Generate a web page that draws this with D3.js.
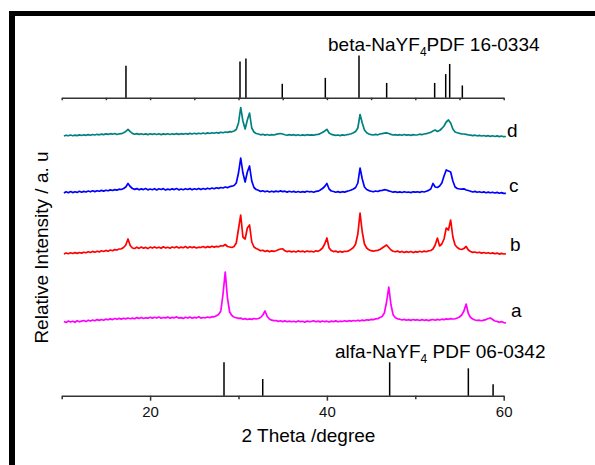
<!DOCTYPE html>
<html>
<head>
<meta charset="utf-8">
<script src="https://cdn.jsdelivr.net/npm/d3@7/dist/d3.min.js"></script>
<style>
  body { margin: 0; background: #fff; }
  svg { font-family: "Liberation Sans", Arial, sans-serif; }
</style>
</head>
<body>
<div class="chart"></div>
<script>
// 2 theta sampling grid of the scans (degrees)
var thetaStart = 10.25;
var thetaStep = 0.25;

// relative intensities, one value per grid point (10.25 .. 60.25)
var sampleA = [
  0.5, -0.5, 1, 0, 0.8, -0.3, 1.2, 0.2,
  0.9, 1.5, 0.4, 1.8, 1, 2, 1.2, 2.4,
  1.6, 2.5, 1.8, 2.9, 2.2, 3.1, 2.4, 3.5,
  2.7, 3.6, 2.9, 3.8, 3.1, 4, 3.3, 3.9,
  3.2, 4.4, 3.6, 4.6, 3.5, 4.2, 3.8, 4.8,
  3.9, 4.7, 4, 5, 3.8, 4.5, 4.1, 4.9,
  3.7, 4.6, 4.2, 5.1, 3.9, 4.4, 3.6, 4.8,
  4, 4.9, 3.8, 4.6, 4.1, 5.2, 3.9, 4.5,
  4.2, 5, 4.4, 5.3, 5.2, 6.2, 7.5, 11,
  28, 50, 24, 10, 6.5, 4.8, 4.2, 3.6,
  3.9, 2.8, 3.4, 2.5, 3.1, 2.6, 3.5, 3,
  3.5, 4.5, 7, 11, 5.5, 3, 1.8, 1.3,
  1.5, 0.6, 1.2, 0.4, 1.1, 0.3, 0.9, 0.2,
  0.8, 0, 1.1, 0.3, 0.7, -0.2, 0.9, 0.4,
  0.6, 1.2, 0.2, 0.9, 0.1, 1, 0.3, 0.8,
  0, 0.9, 0.4, 1.1, 0.2, 0.8, 0.5, 1.2,
  0.6, 1.3, 0.8, 1.5, 1, 1.7, 1.2, 1.9,
  1.4, 2.2, 1.8, 2.6, 2.3, 3.1, 3.3, 4.5,
  5.5, 9, 20, 35, 17, 7, 4.2, 3.2,
  2.8, 2, 2.6, 1.8, 2.4, 1.6, 2.5, 1.9,
  2.3, 1.5, 2.4, 1.7, 2.2, 1.4, 2.1, 2.5,
  1.8, 2.6, 2, 2.8, 2.3, 3.1, 2.7, 3.4,
  3, 3.2, 4, 5, 7, 11, 18, 8.5,
  4.5, 3, 2, 1.6, 1.8, 1.2, 1.9, 2.4,
  3.5, 4, 2.5, 1, 0.6, -0.3, 0.4, -0.6,
  -0.8
];

var sampleB = [
  0, 1, 0.3, 1.2, 0.5, 1.4, 0.6, 1.5,
  0.9, 1.8, 1.2, 2.2, 1.5, 2.6, 1.8, 2.8,
  2.1, 3.2, 2.5, 3.6, 2.8, 4, 3.3, 4.4,
  4, 5, 5.2, 6.5, 9, 15, 8.5, 6,
  5.5, 6.8, 5.6, 7, 5.8, 6.6, 5.4, 6.9,
  5.9, 7.1, 6, 6.8, 5.7, 7.2, 6.1, 6.7,
  5.8, 7, 6.2, 7.3, 6, 6.9, 6.3, 7.4,
  6.1, 7.2, 6.4, 7.1, 6, 6.8, 6.5, 7.5,
  6.3, 7.4, 6.6, 7.8, 6.9, 7.6, 7.2, 8.2,
  8, 9.5, 7.5, 7, 6.5, 7.5, 11, 25,
  39, 17, 15, 26, 29, 12, 7, 5.5,
  4.5, 3.2, 3.8, 2.5, 3.4, 2.2, 3.1, 2.6,
  3.3, 4.2, 5, 5.2, 3.2, 2.4, 3, 2.1,
  2.8, 2, 3.1, 2.3, 2.9, 1.9, 3, 2.4,
  2.7, 2, 3.2, 2.6, 4, 6, 10, 16,
  6, 3.4, 2.4, 2.9, 1.8, 2.6, 1.9, 2.7,
  2.5, 3.4, 4.8, 6.5, 10, 20, 41, 22,
  10, 6, 4.2, 3.3, 2.8, 3.4, 3.6, 4.5,
  6, 7.5, 9, 6.5, 4, 2.8, 2.2, 2.9,
  1.8, 2.6, 1.5, 2.4, 1.7, 2.5, 1.4, 2.3,
  1.8, 2.7, 2, 2.9, 2.3, 3.2, 3.5, 5,
  9, 16, 8, 10, 15, 26, 24, 34,
  17, 9, 6.5, 5, 4.5, 5.5, 7.5, 4,
  2.5, 1.6, 2, 1.2, 1.8, 0.9, 1.5, 0.7,
  1.3, 0.5, 1.1, 0.2, 0.9, -0.1, 0.6, 0,
  0.2
];

var sampleC = [
  0, 1.2, 0.3, 1.5, 0.4, 1.3, 0.6, 1.7,
  0.8, 1.6, 1, 2, 1.2, 2.2, 1.4, 2.3,
  1.7, 2.6, 1.9, 2.8, 2.2, 3.1, 2.5, 3.4,
  2.9, 3.8, 3.5, 4.5, 6, 9.5, 6.5, 4.5,
  3.6, 4.4, 3.2, 4.1, 3.4, 4.5, 3.1, 4,
  3.3, 4.3, 3, 4.2, 3.5, 4.4, 2.9, 3.9,
  3.2, 4.1, 3.4, 4.5, 3.1, 4, 3.3, 4.3,
  3.5, 4.4, 3.2, 4.2, 3.6, 4.6, 3.4, 4.5,
  3.7, 4.8, 4, 5, 4.2, 5.2, 4.6, 5.5,
  5, 6, 5.4, 6.3, 6.8, 7.5, 10, 20,
  35, 20, 11, 21, 27, 12, 5.5, 3.5,
  2.8, 1.6, 2.2, 1.2, 2, 1, 1.8, 1.1,
  1.9, 1.2, 2.1, 1.4, 1.8, 0.9, 1.7, 1,
  1.6, 0.8, 1.5, 0.7, 1.4, 0.9, 1.8, 1.2,
  1.5, 0.8, 1.6, 1.8, 3, 4.5, 6.5, 9.5,
  4, 2, 1.5, 0.8, 1.4, 0.6, 1.3, 0.9,
  1.6, 2.2, 3, 4, 5.5, 10, 25, 14,
  6, 3.5, 2.4, 1.8, 1.2, 2, 1.5, 2.4,
  2.6, 3.3, 3, 2.1, 1.5, 0.8, 1.3, 0.6,
  1.1, 0.5, 1.3, 0.7, 1, 0.4, 1.2, 0.8,
  1.2, 0.6, 1.5, 1, 1.8, 2.6, 4, 9.5,
  6, 5.5, 7, 10, 17, 23, 22, 21,
  12, 6, 4.5, 4, 3.8, 4.2, 3, 2.5,
  1.8, 1, 1.6, 0.7, 1.3, 0.5, 1.1, 0.3,
  0.9, 0.2, 0.8, 0, 0.6, -0.2, 0.4, -0.4,
  -0.3
];

var sampleD = [
  0, 0.8, 0.2, 1, 0.3, 0.9, 0.4, 1.1,
  0.5, 1.2, 0.7, 1.4, 0.8, 1.5, 1, 1.7,
  1.2, 1.9, 1.4, 2.1, 1.6, 2.3, 1.8, 2.5,
  1.5, 2.2, 2.3, 3.3, 4.5, 6.7, 4.3, 2.6,
  1.8, 2.4, 1.6, 2.2, 1.5, 2.1, 1.4, 2.2,
  1.6, 2.2, 1.5, 2.3, 1.4, 2.1, 1.6, 2.3,
  1.5, 2.2, 1.7, 2.4, 1.6, 2.3, 1.8, 2.5,
  1.9, 2.6, 2, 2.7, 2.1, 2.8, 2.2, 3,
  2.3, 3.1, 2.5, 3.3, 2.7, 3.5, 2.9, 3.8,
  3.2, 4, 3.6, 4.4, 4.2, 5, 6.5, 13,
  28.5, 15, 7, 16, 23, 8, 4, 2.5,
  2, 1.2, 1.7, 0.9, 1.5, 0.8, 1.4, 1,
  1.6, 2.2, 2.5, 2, 1.3, 0.7, 1.4, 0.8,
  1.3, 0.6, 1.2, 0.5, 1.1, 0.6, 1.3, 0.9,
  1.2, 0.8, 1.4, 1.6, 2.4, 3.5, 5, 6.7,
  3, 1.6, 1.1, 0.6, 1, 0.4, 1.1, 0.7,
  1.3, 1.7, 2.3, 3.2, 4.5, 8, 21.5, 13,
  6, 3.2, 2, 1.4, 1, 1.6, 1.2, 2,
  2.4, 2.8, 3.1, 2.5, 1.6, 1, 1.4, 0.8,
  1.3, 0.7, 1.5, 0.9, 1.2, 0.6, 1.4, 1,
  1.2, 1.8, 1.3, 2, 2.4, 3, 3.6, 5,
  6, 4.5, 5.5, 7.5, 10, 14, 16, 13,
  7, 4, 3.2, 2.6, 2.2, 2, 1.6, 1.2,
  0.9, 0.4, 0.8, 0.2, 0.6, 0, 0.5, -0.2,
  0.3, -0.4, 0.2, -0.5, 0.1, -0.6, 0, -0.7,
  -0.5
];

var sampleNames = ["a", "b", "c", "d"];
var sampleOffsets = [74, 142, 203, 260];
var sampleColors = ["#ff00ff", "#ff0000", "#0000ff", "#008080"];

// reference cards
var betaPeaks = [17.27, 30.17, 30.84, 34.95, 39.82, 43.63, 46.76, 52.19, 53.44, 53.89, 55.32];
var betaInt = [76, 86, 93, 33, 47, 100, 35, 35, 56, 80, 29];
var alphaPeaks = [28.36, 32.74, 47.1, 56.0, 58.8];
var alphaInt = [100, 50, 100, 82, 34];

var xTicks = [10, 20, 30, 40, 50, 60];
var xLabels = [20, 40, 60];

function init() {
  var w = 595;
  var h = 465;
  var font = "'Liberation Sans', Arial, sans-serif";

  var svg = d3.select(".chart")
    .append("svg")
    .attr("width", w)
    .attr("height", h);

  svg.append("rect").attr("width", w).attr("height", h).attr("fill", "#fff");

  // frame, only the top and left edges show
  svg.append("rect").attr("x", 9).attr("y", 11).attr("width", w - 9).attr("height", 5).attr("fill", "#000");
  svg.append("rect").attr("x", 9).attr("y", 11).attr("width", 6).attr("height", h - 11).attr("fill", "#000");

  var x = d3.scaleLinear().domain([10, 60]).range([61.7, 503.7]);
  var y = d3.scaleLinear().domain([0, 350]).range([396, 46]);
  var betaY = d3.scaleLinear().domain([0, 100]).range([97.7, 55.5]);
  var alphaY = d3.scaleLinear().domain([0, 100]).range([395.7, 362.3]);

  var samples = [sampleA, sampleB, sampleC, sampleD];
  var labelPos = [[511, 317], [510, 250.5], [509, 192], [507, 137]];

  samples.forEach(function(s, k) {
    var line = d3.line()
      .x(function(d, i) { return x(thetaStart + i * thetaStep); })
      .y(function(d) { return y(d + sampleOffsets[k]); });

    svg.append("path")
      .datum(s)
      .attr("fill", "none")
      .attr("stroke", sampleColors[k])
      .attr("stroke-width", 1.7)
      .attr("stroke-linejoin", "round")
      .attr("d", line);

    svg.append("text")
      .attr("x", labelPos[k][0])
      .attr("y", labelPos[k][1])
      .attr("font-size", "19px")
      .attr("fill", "#000")
      .text(sampleNames[k]);
  });

  // beta card
  var betaAxis = d3.axisBottom(x)
    .tickValues(d3.range(10, 61, 5))
    .tickSize(2.5)
    .tickSizeOuter(0)
    .tickFormat("");

  svg.append("g")
    .attr("transform", "translate(0," + betaY(0) + ")")
    .call(betaAxis)
    .call(function(g) {
      g.selectAll("path, line").attr("stroke", "#333").attr("stroke-width", 1.5);
    });

  svg.selectAll(".beta")
    .data(betaPeaks)
    .enter()
    .append("line")
    .attr("class", "beta")
    .attr("x1", function(d) { return x(d); })
    .attr("x2", function(d) { return x(d); })
    .attr("y1", betaY(0))
    .attr("y2", function(d, i) { return betaY(betaInt[i]); })
    .attr("stroke", "#000")
    .attr("stroke-width", 1.5);

  var betaText = svg.append("text")
    .attr("x", 328)
    .attr("y", 51)
    .attr("font-size", "19px");
  betaText.append("tspan").text("beta-NaYF");
  betaText.append("tspan").attr("font-size", "12px").attr("dy", 5).text("4");
  betaText.append("tspan").attr("dy", -5).text("PDF 16-0334");

  // alpha card and main x axis
  var xAxis = d3.axisBottom(x)
    .tickValues(xTicks)
    .tickSize(5)
    .tickSizeOuter(0)
    .tickPadding(6)
    .tickFormat(function(d) { return xLabels.indexOf(d) >= 0 ? d : ""; });

  svg.append("g")
    .attr("transform", "translate(0," + alphaY(0) + ")")
    .call(xAxis)
    .call(function(g) {
      g.selectAll("path, line").attr("stroke", "#333").attr("stroke-width", 1.5);
      g.selectAll(".tick line").attr("y2", function(d) { return xLabels.indexOf(d) >= 0 ? 5 : 3.5; });
      g.selectAll("text").attr("font-size", "15px").attr("fill", "#111").attr("font-family", font);
    });

  svg.selectAll(".alpha")
    .data(alphaPeaks)
    .enter()
    .append("line")
    .attr("class", "alpha")
    .attr("x1", function(d) { return x(d); })
    .attr("x2", function(d) { return x(d); })
    .attr("y1", alphaY(0))
    .attr("y2", function(d, i) { return alphaY(alphaInt[i]); })
    .attr("stroke", "#000")
    .attr("stroke-width", 1.5);

  var alphaText = svg.append("text")
    .attr("x", 335)
    .attr("y", 357.5)
    .attr("font-size", "19px");
  alphaText.append("tspan").text("alfa-NaYF");
  alphaText.append("tspan").attr("font-size", "12px").attr("dy", 5).text("4");
  alphaText.append("tspan").attr("dy", -5).text(" PDF 06-0342");

  // axis titles
  svg.append("text")
    .attr("x", 308.5)
    .attr("y", 441.5)
    .attr("text-anchor", "middle")
    .attr("font-size", "19px")
    .text("2 Theta /degree");

  svg.append("text")
    .attr("transform", "rotate(-90)")
    .attr("x", -247.5)
    .attr("y", 48)
    .attr("text-anchor", "middle")
    .attr("font-size", "19px")
    .text("Relative Intensity / a. u");
}

window.onload = init;
</script>
</body>
</html>
